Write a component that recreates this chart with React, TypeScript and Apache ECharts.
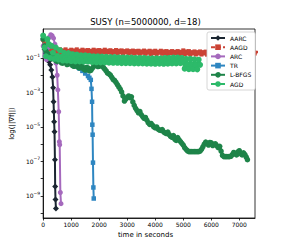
import React, { useEffect, useRef } from "react";
import * as echarts from "echarts";

const chartTitle = "SUSY (n=5000000, d=18)";
const xAxisLabel = "time in seconds";
const yAxisLabel = "log(||∇f||)";
const xTickValues = [0, 1000, 2000, 3000, 4000, 5000, 6000, 7000];
const yTickDecades = [-10, -9, -8, -7, -6, -5, -4, -3, -2, -1, 0];
const yLabelDecades = [-9, -7, -5, -3, -1];

// log10 of the gradient norm
const aarcTime = [0, 50, 100, 150, 200, 250, 290, 330, 355, 370, 382, 392, 405, 420, 428, 440, 455];
const aarcLogGrad = [0.1, -0.5, -0.8, -1.0, -1.2, -1.4, -1.7, -2.1, -2.73, -3.54, -4.12, -4.7, -5.28, -6.9, -8.45, -9.2, -9.73];

const aagdTime = [0, 50, 100, 150, 200, 250, 300, 350, 400, 450, 500, 550, 600, 650, 700, 750, 800, 850, 900, 950, 1000, 1050, 1100, 1150, 1200, 1250, 1300, 1350, 1400, 1450, 1500, 1550, 1600, 1650, 1700, 1750, 1800, 1850, 1900, 1950, 2000, 2050, 2100, 2150, 2200, 2250, 2300, 2350, 2400, 2450, 2500, 2550, 2600, 2650, 2700, 2750, 2800, 2850, 2900, 2950, 3000, 3050, 3100, 3150, 3200, 3250, 3300, 3350, 3400, 3450, 3500, 3550, 3600, 3650, 3700, 3750, 3800, 3850, 3900, 3950, 4000, 4050, 4100, 4150, 4200, 4250, 4300, 4350, 4400, 4450, 4500, 4550, 4600, 4650, 4700, 4750, 4800, 4850, 4900, 4950, 5000, 5050, 5100, 5150, 5200, 5250, 5300, 5350, 5400, 5450, 5500, 5550, 5600, 5650, 5700, 5750, 5800, 5850, 5900, 5950, 6000, 6050, 6100, 6150, 6200, 6250, 6300, 6350, 6400, 6450, 6500, 6550, 6600, 6650, 6700, 6750, 6800, 6850, 6900, 6950, 7000, 7050, 7100, 7150, 7200, 7250, 7300, 7350, 7400, 7450, 7500, 7550, 7600, 7650, 7700];
const aagdLogGrad = [0.05, -0.2, -0.3, -0.45, -0.35, -0.5, -0.42, -0.58, -0.48, -0.62, -0.52, -0.6, -0.5, -0.68, -0.56, -0.62, -0.5, -0.7, -0.58, -0.64, -0.52, -0.7, -0.56, -0.64, -0.5, -0.68, -0.58, -0.66, -0.52, -0.7, -0.56, -0.64, -0.54, -0.72, -0.58, -0.66, -0.52, -0.7, -0.56, -0.66, -0.54, -0.72, -0.58, -0.66, -0.52, -0.7, -0.58, -0.68, -0.55, -0.74, -0.6, -0.66, -0.54, -0.72, -0.58, -0.68, -0.56, -0.74, -0.6, -0.68, -0.56, -0.74, -0.6, -0.7, -0.57, -0.75, -0.6, -0.7, -0.58, -0.76, -0.62, -0.7, -0.57, -0.76, -0.62, -0.7, -0.58, -0.77, -0.62, -0.72, -0.58, -0.78, -0.64, -0.7, -0.58, -0.76, -0.62, -0.72, -0.6, -0.78, -0.64, -0.72, -0.6, -0.78, -0.64, -0.72, -0.6, -0.8, -0.64, -0.72, -0.56, -0.78, -0.62, -0.74, -0.6, -0.8, -0.66, -0.74, -0.62, -0.8, -0.66, -0.74, -0.62, -0.8, -0.66, -0.74, -0.63, -0.81, -0.66, -0.73, -0.6, -0.78, -0.64, -0.74, -0.62, -0.8, -0.66, -0.75, -0.62, -0.79, -0.66, -0.74, -0.61, -0.8, -0.67, -0.74, -0.62, -0.8, -0.65, -0.74, -0.62, -0.79, -0.66, -0.73, -0.62, -0.8, -0.66, -0.74, -0.63, -0.8, -0.66, -0.74, -0.62, -0.78, -0.66];

const arcTime = [0, 60, 120, 170, 220, 270, 320, 370, 420, 460, 500, 525, 555, 578, 590, 613, 637];
const arcLogGrad = [-0.3, -0.9, -1.1, -0.4, 0.2, 0.35, 0.3, 0.15, -0.2, -1.3, -2.0, -2.85, -4.12, -5.86, -6.03, -8.8, -9.45];

const trTime = [0, 100, 200, 300, 400, 500, 600, 700, 800, 900, 1000, 1100, 1200, 1300, 1400, 1500, 1600, 1650, 1700, 1725, 1745, 1755, 1765, 1778, 1792, 1805];
const trLogGrad = [0.2, -0.6, -0.8, -0.9, -0.95, -1.0, -1.02, -1.05, -1.08, -1.1, -1.2, -1.35, -1.5, -1.62, -1.75, -1.9, -2.05, -2.15, -2.27, -2.79, -3.54, -4.87, -5.45, -7.07, -8.51, -9.15];

const lbfgsTime = [0, 50, 100, 150, 200, 250, 300, 350, 400, 450, 500, 550, 600, 650, 700, 750, 800, 850, 900, 950, 1000, 1050, 1100, 1150, 1200, 1250, 1300, 1350, 1400, 1450, 1500, 1550, 1600, 1650, 1700, 1750, 1800, 1850, 1900, 1950, 2000, 2050, 2100, 2150, 2200, 2250, 2300, 2350, 2400, 2450, 2500, 2550, 2600, 2650, 2700, 2750, 2800, 2850, 2900, 2950, 3000, 3050, 3100, 3150, 3200, 3250, 3300, 3350, 3400, 3450, 3500, 3550, 3600, 3650, 3700, 3750, 3800, 3850, 3900, 3950, 4000, 4050, 4100, 4150, 4200, 4250, 4300, 4350, 4400, 4450, 4500, 4550, 4600, 4650, 4700, 4750, 4800, 4850, 4900, 4950, 5000, 5050, 5100, 5150, 5200, 5250, 5300, 5350, 5400, 5450, 5500, 5550, 5600, 5650, 5700, 5750, 5800, 5850, 5900, 5950, 6000, 6050, 6100, 6150, 6200, 6250, 6300, 6350, 6400, 6450, 6500, 6550, 6600, 6650, 6700, 6750, 6800, 6850, 6900, 6950, 7000, 7050, 7100, 7150, 7200, 7250, 7290];
const lbfgsLogGrad = [0.1, -0.3, -0.6, -0.75, -0.85, -1.0, -1.05, -0.92, -0.98, -1.15, -1.2, -1.08, -1.12, -1.28, -1.3, -1.18, -1.22, -1.38, -1.35, -1.25, -1.3, -1.45, -1.48, -1.35, -1.4, -1.55, -1.58, -1.45, -1.5, -1.65, -1.7, -1.55, -1.58, -1.75, -1.72, -1.6, -1.5, -1.42, -1.35, -1.5, -1.48, -1.38, -1.45, -1.55, -1.65, -1.75, -1.88, -1.92, -2.0, -2.12, -2.25, -2.3, -2.42, -2.55, -2.68, -2.8, -2.97, -3.2, -3.5, -3.38, -3.28, -3.2, -3.3, -3.25, -3.55, -3.75, -3.92, -4.05, -4.18, -4.1, -4.28, -4.4, -4.5, -4.45, -4.6, -4.75, -4.85, -4.8, -4.9, -5.0, -5.05, -5.0, -5.12, -5.18, -5.2, -5.15, -5.28, -5.35, -5.38, -5.3, -5.45, -5.55, -5.6, -5.5, -5.72, -5.78, -5.62, -5.75, -5.85, -5.95, -6.05, -6.2, -6.3, -6.38, -6.43, -6.43, -6.43, -6.43, -6.43, -6.43, -6.43, -6.43, -6.4, -6.3, -6.15, -6.0, -5.88, -5.95, -6.05, -5.9, -5.92, -6.08, -6.0, -5.98, -6.1, -6.2, -6.12, -6.4, -6.65, -6.72, -6.72, -6.72, -6.72, -6.72, -6.7, -6.6, -6.48, -6.55, -6.62, -6.45, -6.38, -6.55, -6.62, -6.5, -6.6, -6.75, -6.9];

const agdTime = [0, 50, 100, 150, 200, 250, 300, 350, 400, 450, 500, 550, 600, 650, 700, 750, 800, 850, 900, 950, 1000, 1050, 1100, 1150, 1200, 1250, 1300, 1350, 1400, 1450, 1500, 1550, 1600, 1650, 1700, 1750, 1800, 1850, 1900, 1950, 2000, 2050, 2100, 2150, 2200, 2250, 2300, 2350, 2400, 2450, 2500, 2550, 2600, 2650, 2700, 2750, 2800, 2850, 2900, 2950, 3000, 3050, 3100, 3150, 3200, 3250, 3300, 3350, 3400, 3450, 3500, 3550, 3600, 3650, 3700, 3750, 3800, 3850, 3900, 3950, 4000, 4050, 4100, 4150, 4200, 4250, 4300, 4350, 4400, 4450, 4500, 4550, 4600, 4650, 4700, 4750, 4800, 4850, 4900, 4950, 5000, 5050, 5100, 5150, 5200, 5250, 5300, 5350, 5400, 5450, 5500, 5550, 5600];
const agdLogGrad = [0.3, -0.4, -0.9, 0.1, -0.2, -1.0, -0.3, -0.7, -1.05, -0.4, -0.9, -1.1, -0.55, -0.95, -1.15, -0.7, -1.0, -1.15, -0.72, -1.05, -1.18, -0.78, -1.0, -1.2, -0.8, -1.1, -1.2, -0.85, -1.05, -1.22, -0.85, -1.12, -1.22, -0.88, -1.1, -1.24, -0.9, -1.15, -1.25, -0.9, -1.12, -1.26, -0.92, -1.18, -1.26, -0.93, -1.15, -1.27, -0.95, -1.2, -1.28, -0.95, -1.18, -1.28, -0.97, -1.22, -1.3, -0.97, -1.2, -1.3, -0.98, -1.22, -1.3, -0.98, -1.2, -1.32, -1.0, -1.24, -1.32, -1.0, -1.22, -1.32, -1.0, -1.25, -1.33, -1.02, -1.24, -1.33, -1.02, -1.25, -1.34, -1.02, -1.24, -1.33, -1.02, -1.26, -1.34, -1.0, -1.25, -1.33, -1.0, -1.24, -1.32, -0.98, -1.22, -1.32, -0.98, -1.2, -1.3, -1.0, -1.15, -1.62, -1.05, -1.4, -1.65, -1.05, -1.42, -1.65, -1.08, -1.4, -1.66, -1.1, -1.4];

const FONT = "DejaVu Sans";

type S = { name: string; t: number[]; v: number[]; color: string; symbol: string; size: number; width: number; dash?: number[] };

const seriesDefs: S[] = [
  { name: "AARC", t: aarcTime, v: aarcLogGrad, color: "#1b2631", symbol: "diamond", size: 6, width: 2 },
  { name: "AAGD", t: aagdTime, v: aagdLogGrad, color: "#cb4335", symbol: "rect", size: 4, width: 3.5, dash: [4, 2] },
  { name: "ARC", t: arcTime, v: arcLogGrad, color: "#a569bd", symbol: "circle", size: 5, width: 2 },
  { name: "TR", t: trTime, v: trLogGrad, color: "#2e86c1", symbol: "rect", size: 4.5, width: 2 },
  { name: "L-BFGS", t: lbfgsTime, v: lbfgsLogGrad, color: "#1e8449", symbol: "circle", size: 5.5, width: 3 },
  { name: "AGD", t: agdTime, v: agdLogGrad, color: "#2dba6a", symbol: "circle", size: 6, width: 3 },
];

export default function App() {
  const ref = useRef<HTMLDivElement>(null);
  useEffect(() => {
    if (!ref.current) return;
    const chart = echarts.init(ref.current, undefined, { renderer: "svg" });
    chart.setOption({
      animation: false,
      backgroundColor: "#ffffff",
      title: [
        {
          text: chartTitle,
          left: 145.5,
          top: 17,
          textAlign: "center",
          padding: 0,
          textStyle: { fontSize: 8.5, fontWeight: "normal", color: "#000", fontFamily: FONT },
        },
        {
          text: xAxisLabel,
          left: 145.5,
          top: 231,
          textAlign: "center",
          padding: 0,
          textStyle: { fontSize: 7, fontWeight: "normal", color: "#000", fontFamily: FONT },
        },
      ],
      legend: {
        data: seriesDefs.map((s) => s.name),
        orient: "vertical",
        left: 207,
        top: 32,
        itemWidth: 14,
        itemHeight: 7,
        itemGap: 3.2,
        itemTextGap: 3,
        padding: [3, 4, 3, 3],
        borderColor: "#cccccc",
        borderWidth: 0.8,
        borderRadius: 2,
        backgroundColor: "#ffffff",
        textStyle: { fontSize: 6, color: "#000", fontFamily: FONT },
        selectedMode: false,
      },
      grid: {
        left: 35.5,
        right: 28,
        top: 29,
        bottom: 27,
        show: true,
        borderColor: "#000",
        borderWidth: 0.8,
        backgroundColor: "transparent",
      },
      xAxis: {
        type: "value",
        min: 0,
        max: 7560,
        axisLine: { show: true, onZero: false, lineStyle: { color: "#000", width: 0.8 } },
        axisTick: { show: true, length: 2.5, customValues: xTickValues, lineStyle: { color: "#000", width: 0.8 } },
        axisLabel: {
          customValues: xTickValues,
          fontSize: 6,
          margin: 3,
          color: "#000",
          fontFamily: FONT,
          formatter: (v: number) => String(Math.round(v)),
        },
        splitLine: { show: false },
      },
      yAxis: {
        type: "value",
        min: -10.28,
        max: 0.68,
        name: yAxisLabel,
        nameLocation: "middle",
        nameGap: 21,
        nameTextStyle: { fontSize: 7, color: "#000000", fontFamily: FONT },
        axisLine: { show: true, onZero: false, lineStyle: { color: "#000", width: 0.8 } },
        axisTick: { show: true, length: 2.5, customValues: yTickDecades, lineStyle: { color: "#000", width: 0.8 } },
        axisLabel: {
          customValues: yLabelDecades,
          margin: 3,
          formatter: (v: number) => "{b|10}{s|\u2212" + Math.abs(Math.round(v)) + "}",
          rich: {
            b: { fontSize: 6, color: "#000", fontFamily: FONT },
            s: { fontSize: 4.5, color: "#000", fontFamily: FONT, padding: [0, 0, 5, 0] },
          },
        },
        splitLine: { show: false },
      },
      series: seriesDefs.map((s) => ({
        type: "line",
        name: s.name,
        data: s.t.map((t, i) => [t, s.v[i]]),
        symbol: s.symbol,
        symbolSize: s.size,
        showSymbol: true,
        clip: true,
        silent: true,
        lineStyle: { color: s.color, width: s.width, type: s.dash ? s.dash : "solid" },
        itemStyle: { color: s.color },
        emphasis: { disabled: true },
      })),
    });
    return () => chart.dispose();
  }, []);
  return <div ref={ref} style={{ position: "fixed", left: 0, top: 0, width: 283, height: 245 }} />;
}
